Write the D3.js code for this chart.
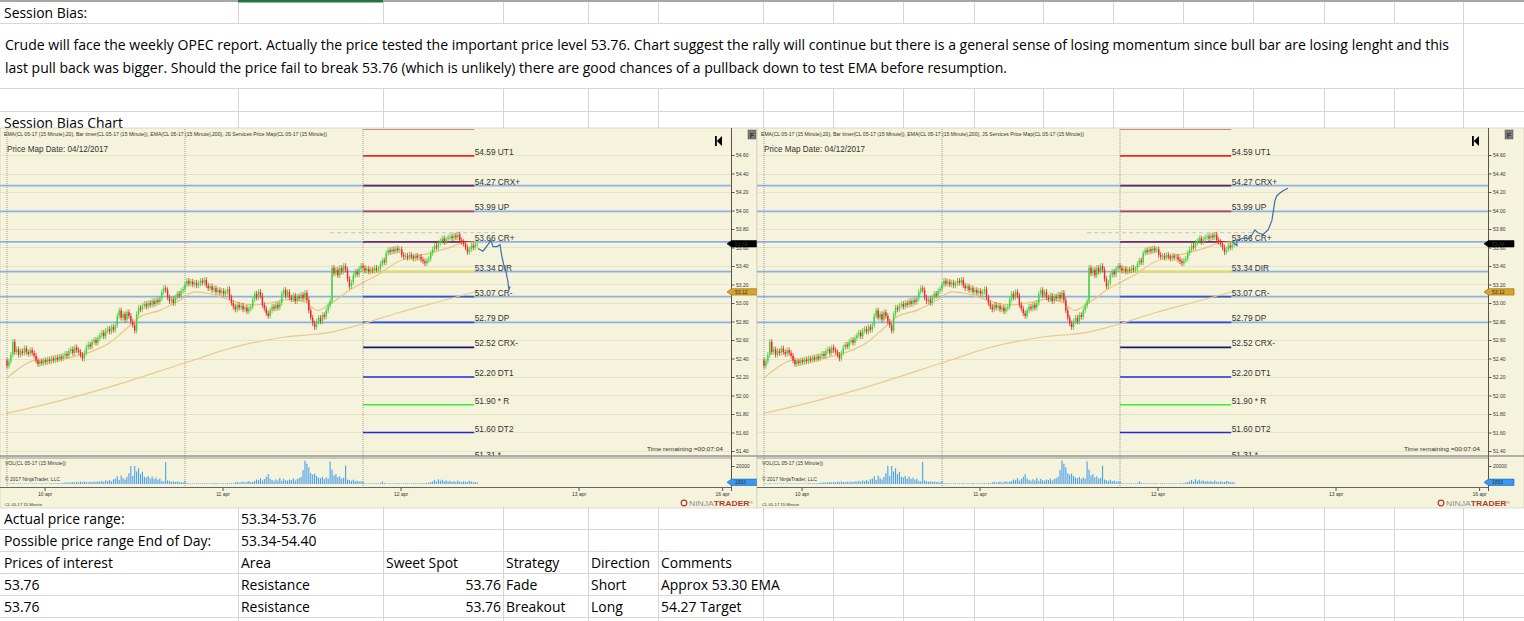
<!DOCTYPE html>
<html lang="en">
<head>
<meta charset="utf-8">
<script src="https://d3js.org/d3.v7.min.js"></script>
<style type="text/css">
  body { margin: 0; background: #fff; }
  svg { display: block; }
  .cell { font-family: "Open Sans", sans-serif; font-size: 14.5px; fill: #000; }
  .nt { font-family: "Liberation Sans", Arial, sans-serif; fill: #333; }
  .axis text { font-family: "Liberation Sans", Arial, sans-serif; font-size: 5px; fill: #333; }
  .axis line { stroke: #555; }
</style>
</head>
<body>
<script type="text/javascript">

  // ---- chart data (CL 05-17, 15 minute bars) ----
  var firstOpen = 52.38;
  var closes = [
    52.32, 52.37, 52.44, 52.58,
    52.47, 52.50, 52.44, 52.48, 52.46, 52.51, 52.47, 52.45, 52.49, 52.46, 52.43,
    52.38, 52.34, 52.37,
    52.35, 52.38, 52.36, 52.39, 52.37, 52.40, 52.38, 52.41, 52.39, 52.42, 52.40, 52.43,
    52.45, 52.43, 52.48, 52.50, 52.46, 52.52, 52.49, 52.47, 52.44, 52.40,
    52.46, 52.52, 52.55, 52.53, 52.58, 52.60, 52.57, 52.62,
    52.65, 52.68, 52.64, 52.70, 52.72, 52.69, 52.74, 52.71, 52.76,
    52.86, 52.92,
    52.84, 52.88, 52.82, 52.90, 52.86, 52.80, 52.76,
    52.70,
    52.88, 52.95, 52.93, 52.97, 52.99, 52.96, 53.00, 52.98, 53.02, 52.99, 53.03, 53.01, 53.05,
    53.12, 53.16, 53.14,
    53.06, 53.02, 53.04, 53.00,
    53.06, 53.10, 53.08, 53.13, 53.15,
    53.20, 53.24, 53.21, 53.23, 53.20, 53.22, 53.19, 53.21, 53.24, 53.22, 53.25,
    53.19, 53.16, 53.18, 53.14, 53.16,
    53.12, 53.14, 53.11, 53.13, 53.10, 53.12, 53.15,
    53.06, 53.00, 52.96, 52.93, 52.98, 52.95,
    52.97, 52.93, 52.95, 52.91, 52.94, 52.96,
    53.04, 53.10, 53.06, 53.12, 53.08,
    52.98, 52.94, 52.89, 52.86, 52.92,
    52.96, 52.94, 52.98, 52.95, 53.00,
    53.10, 53.14, 53.08, 53.12, 53.06,
    53.04, 53.08, 53.02, 53.07, 53.05,
    53.09, 53.05, 53.11, 53.03,
    52.92, 52.84, 52.78, 52.74, 52.80,
    52.84, 52.80, 52.87, 52.85,
    52.92, 52.97, 53.02,
    53.38,
    53.32, 53.36, 53.30, 53.38, 53.34, 53.40, 53.36,
    53.26, 53.18, 53.22,
    53.30, 53.34, 53.31, 53.37, 53.40,
    53.38, 53.35, 53.37, 53.34, 53.36, 53.35, 53.38, 53.36, 53.37,
    53.42, 53.46, 53.44,
    53.54, 53.57, 53.55, 53.58, 53.56, 53.59, 53.57, 53.58,
    53.52, 53.50, 53.51,
    53.49, 53.52, 53.50, 53.48, 53.51, 53.49, 53.50, 53.47,
    53.45, 53.43, 53.46, 53.48,
    53.54, 53.58, 53.62, 53.60, 53.65,
    53.67, 53.70, 53.66, 53.69, 53.71,
    53.72, 53.70, 53.73, 53.71,
    53.74, 53.68, 53.66, 53.64,
    53.60, 53.55, 53.58,
    53.62, 53.60, 53.63, 53.64
  ];

  // volume per bar, in thousands of contracts
  var volumes = [
    0.6,0.4,0.5,0.8,0.5,0.4,0.6,0.5,0.4,0.5,0.6,0.4,0.5,0.7,0.5,0.6,0.5,0.4,0.6,0.5,0.7,0.5,0.6,0.8,0.6,0.7,0.9,0.7,1.0,1.2,
    1.6,1.8,1.5,2.0,2.2,1.7,2.4,1.9,2.6,2.0,2.8,2.2,1.9,2.5,2.1,2.7,2.3,3.0,
    2.8,3.5,2.6,4.0,3.2,4.6,3.0,5.2,
    6.0,8.5,4.5,9.5,6.5,5.0,7.8,
    12.0,20.0,9.0,20.0,14.0,17.5,11.0,13.5,8.0,
    7.5,9.0,6.0,8.2,5.5,7.0,4.8,6.0,3.5,
    3.0, 24.5,
    4.0,3.2,2.6,3.0,2.4,2.8,2.2,2.0,1.8,
    3.5,
    1.0,0.8,0.6,0.7,0.5,0.6,0.8,0.5,0.7,0.6,0.9,0.5,0.6,0.7,0.5,1.2,0.6,0.5,0.8,0.6,0.7,0.9,0.6,1.0,0.8,
    1.8,2.5,1.5,2.2,2.8,1.6,2.4,3.2,2.0,2.6,
    3.5,5.0,4.2,6.5,3.8,5.5,8.0,11.0,6.0,
    4.5,3.6,5.2,4.0,6.8,3.5,5.8,4.2,3.8,5.0,4.4,6.2,3.9,5.5,6.5,
    8.0,15.5,26.0,22.5,18.5,12.0,10.5,11.5,9.0,7.0,
    6.5,8.0,5.5,7.2,6.0,
    25.0,
    16.0,9.5,11.0,7.5,8.5,6.0,7.0,
    20.5,
    5.0,4.2,3.5,4.8,3.2,3.8,2.8,3.0,
    3.2,
    0.8,0.6,0.5,0.7,0.6,0.8,0.5,0.6,0.9,
    2.8,
    1.2,0.7,0.6,0.8,0.5,0.7,0.6,0.9,0.6,0.5,0.7,0.8,0.6,0.7,0.5,0.9,0.6,0.7,0.8,0.6,1.0,0.7,1.2,1.5,
    2.2,3.0,4.5,2.8,5.2,3.6,4.8,3.2,4.0,2.9,3.5,2.6,3.1,2.4,3.8,
    2.6,2.0,3.0,2.4,2.2,3.4,2.8,2.1,2.0,1.9
  ];

  // EMA readings as [bar index, price]
  var ema20 = [[0,52.19],[6.7,52.30],[14.5,52.38],[22,52.38],[32.5,52.41],[45.5,52.49],[53,52.57],[61,52.71],
    [68.7,52.85],[79,52.92],[89.4,53.03],[97,53.12],[105,53.10],[112.7,53.05],[120.4,53.00],[128,52.98],
    [136,53.00],[146,53.04],[154,53.01],[160.7,52.92],[166,52.98],[172,53.06],[177,53.14],[184,53.22],
    [192.8,53.32],[201.5,53.44],[209.8,53.50],[218.6,53.54],[227.4,53.59],[235.7,53.65],[243.4,53.66]];
  var ema200 = [[0,51.81],[6.7,51.84],[48,52.06],[93,52.36],[117,52.52],[143,52.63],[169,52.69],
    [183,52.77],[203,52.90],[226,53.03],[243.4,53.13]];

  // hand drawn scenarios: pullback (left chart) and breakout (right chart)
  var projDown = [[243.4,53.59],[246,53.56],[248.6,53.63],[250.1,53.68],[251.2,53.61],[253.2,53.61],
    [254.8,53.63],[255.8,53.50],[256.8,53.41],[257.9,53.34],[258.9,53.23],[259.4,53.14],[260,53.18]];
  var projUp = [[241.9,53.67],[244.4,53.62],[244.4,53.68],[247.5,53.70],[251.2,53.70],[253.7,53.79],
    [255.3,53.76],[257.9,53.74],[260.5,53.79],[262.5,53.89],[264.1,54.11],[265.1,54.16],[266.7,54.19],
    [268.7,54.22],[270.8,54.24]];

  // JS Services price map for 04/12/2017
  var levelPrices = [54.88, 54.59, 54.27, 53.99, 53.66, 53.34, 53.07, 52.79, 52.52, 52.20, 51.90, 51.60, 51.31];
  var levelNames  = ["UT2", "UT1", "CRX+", "UP", "CR+", "DIR", "CR-", "DP", "CRX-", "DT1", "* R", "DT2", "*"];
  var drawnLevels = [54.27, 53.99, 53.66, 53.34, 53.07, 52.79];
  var testedLevel = 53.76;

  var dayStarts = [0, 92, 184];
  var dateTicks = [19.4, 111.4, 203.4, 295.4, 369.6];
  var dateLabels = ["10 apr", "11 apr", "12 apr", "13 apr", "16 apr"];
  var priceTicks = [51.40, 51.60, 51.80, 52.00, 52.20, 52.40, 52.60, 52.80, 53.00,
                    53.20, 53.40, 53.60, 53.80, 54.00, 54.20, 54.40, 54.60];
  var volumeTicks = [20];
  var lastPrice = 53.64, lastEma200 = 53.12, lastVolume = 1.893;

  // ---- spreadsheet text ----
  var biasLines = [
    "Crude will face the weekly OPEC report. Actually the price tested the important price level 53.76. Chart suggest the rally will continue but there is a general sense of losing momentum since bull bar are losing lenght and this",
    "last pull back was bigger. Should the price fail to break 53.76 (which is unlikely) there are good chances of a pullback down to test EMA before resumption."
  ];
  var tableRows = [
    ["Actual price range:", "53.34-53.76", "", "", "", ""],
    ["Possible price range End of Day:", "53.34-54.40", "", "", "", ""],
    ["Prices of interest", "Area", "Sweet Spot", "Strategy", "Direction", "Comments"],
    ["53.76", "Resistance", "53.76", "Fade", "Short", "Approx 53.30 EMA"],
    ["53.76", "Resistance", "53.76", "Breakout", "Long", "54.27 Target"]
  ];

  var width = 1524, height = 621;
  var SX = 0.96;   // squeeze the sans font towards the sheet's narrow face

  var svg = d3.select("body").append("svg")
    .attr("width", width)
    .attr("height", height);

  // ---- sheet grid ----
  var cols = [238, 383, 503, 588, 658, 763, 833, 903, 974, 1043, 1113, 1183, 1253, 1324, 1394, 1463];
  var grid = svg.append("g").attr("stroke", "#d6d6d6").attr("stroke-width", 1);
  [23.5, 88.5, 111.5, 529.5, 551.5, 573.5, 595.5, 617.5].forEach(function(yy) {
    grid.append("line").attr("x1", 0).attr("x2", width).attr("y1", yy).attr("y2", yy);
  });
  cols.forEach(function(cx) {
    grid.append("line").attr("x1", cx + 0.5).attr("x2", cx + 0.5).attr("y1", 0).attr("y2", 23);
    grid.append("line").attr("x1", cx + 0.5).attr("x2", cx + 0.5).attr("y1", 88).attr("y2", 128);
    grid.append("line").attr("x1", cx + 0.5).attr("x2", cx + 0.5).attr("y1", 508).attr("y2", height);
  });
  grid.append("line").attr("x1", 1463.5).attr("x2", 1463.5).attr("y1", 23).attr("y2", 88);
  svg.append("rect").attr("x", 0).attr("y", 0).attr("width", width).attr("height", 2).attr("fill", "#a6a6a6");
  svg.append("rect").attr("x", 238).attr("y", 0).attr("width", 145).attr("height", 2.5).attr("fill", "#217346");

  function cell(x, y, s, anchor) {
    svg.append("text").attr("class", "cell")
      .attr("transform", "translate(" + x + "," + y + ") scale(" + SX + ",1)")
      .attr("text-anchor", anchor || "start")
      .text(s);
  }

  cell(4, 18, "Session Bias:");
  svg.append("text").attr("class", "cell").attr("x", 5).attr("y", 50)
    .attr("textLength", 1444).attr("lengthAdjust", "spacingAndGlyphs").text(biasLines[0]);
  svg.append("text").attr("class", "cell").attr("x", 5).attr("y", 73)
    .attr("textLength", 1002).attr("lengthAdjust", "spacingAndGlyphs").text(biasLines[1]);
  cell(4, 127.5, "Session Bias Chart");

  // table under the charts
  var tableX = [4, 241, 501, 506, 591, 661];
  tableRows.forEach(function(row, r) {
    var yy = 524 + r * 22;
    row.forEach(function(txt, c) {
      if (!txt) return;
      // sweet spot prices are numbers, right aligned in their cell
      if (c === 2 && r > 2) cell(tableX[2], yy, txt, "end");
      else if (c === 2) cell(386, yy, txt);
      else cell(tableX[c], yy, txt);
    });
  });

  // ---- scales (shared by both charts) ----
  var x = d3.scaleLinear().domain([0, 92]).range([7, 185]);
  var y = d3.scaleLinear().domain([51.40, 54.60]).range([451, 155]);
  var vy = d3.scaleLinear().domain([0, 20]).range([484, 466]);

  var levelColor = {
    "UT2": "#c98a86", "UT1": "#ee2424", "CRX+": "#5e2c62", "UP": "#b8406a", "CR+": "#6c2f72",
    "DIR": "#e6e046", "CR-": "#3356c8", "DP": "#2f4fe0", "CRX-": "#15166e", "DT1": "#2626de",
    "* R": "#3cee3c", "DT2": "#2626de", "*": "#2626de"
  };

  function drawChart(id, ox, w, proj) {
    var g = svg.append("g").attr("transform", "translate(" + ox + ",0)");

    g.append("rect").attr("x", 0).attr("y", 128).attr("width", w).attr("height", 380)
      .attr("fill", "#f5f3dc").attr("stroke", "#c8c6b4").attr("stroke-width", 0.6);

    var clip = g.append("clipPath").attr("id", "clip" + id);
    clip.append("rect").attr("x", 0).attr("y", 129).attr("width", 731).attr("height", 327);
    var p = g.append("g").attr("clip-path", "url(#clip" + id + ")");

    // price grid
    p.selectAll(".gl").data(priceTicks).enter().append("line")
      .attr("x1", 0).attr("x2", 731)
      .attr("y1", function(d) { return Math.round(y(d)) + 0.5; })
      .attr("y2", function(d) { return Math.round(y(d)) + 0.5; })
      .attr("stroke", "#e6e3c9").attr("stroke-width", 1);

    // session separators
    g.selectAll(".day").data(dayStarts).enter().append("line")
      .attr("x1", function(d) { return x(d); }).attr("x2", function(d) { return x(d); })
      .attr("y1", 129).attr("y2", 487)
      .attr("stroke", "#8c8b80").attr("stroke-width", 0.8).attr("stroke-dasharray", "1,1");

    // hand drawn horizontal lines
    p.selectAll(".hl").data(drawnLevels).enter().append("line")
      .attr("x1", 0).attr("x2", 731)
      .attr("y1", function(d) { return y(d); }).attr("y2", function(d) { return y(d); })
      .attr("stroke", "#8db1e2").attr("stroke-width", 1.8);

    p.append("line")
      .attr("x1", x(167)).attr("x2", x(254))
      .attr("y1", y(testedLevel)).attr("y2", y(testedLevel))
      .attr("stroke", "#bcc6d4").attr("stroke-width", 1).attr("stroke-dasharray", "4,3");

    // price map segments
    p.selectAll(".lv").data(levelPrices).enter().append("line")
      .attr("x1", x(184)).attr("x2", x(241.5))
      .attr("y1", function(d) { return y(d); }).attr("y2", function(d) { return y(d); })
      .attr("stroke", function(d, i) { return levelColor[levelNames[i]]; })
      .attr("stroke-width", 1.7);

    // EMAs
    var ln = d3.line()
      .x(function(d) { return x(d[0]); })
      .y(function(d) { return y(d[1]); })
      .curve(d3.curveMonotoneX);
    p.append("path").attr("d", ln(ema200)).attr("fill", "none")
      .attr("stroke", "#ecca8c").attr("stroke-width", 1.2);
    p.append("path").attr("d", ln(ema20)).attr("fill", "none")
      .attr("stroke", "#ebc582").attr("stroke-width", 1.2);

    // bars
    var bars = closes.map(function(c, i) {
      var o = i > 0 ? closes[i - 1] : firstOpen;
      return { i: i, o: o, c: c, hi: Math.max(o, c), lo: Math.min(o, c) };
    });
    var bar = p.selectAll(".bar").data(bars).enter().append("g");
    bar.append("line")
      .attr("x1", function(d) { return x(d.i); }).attr("x2", function(d) { return x(d.i); })
      .attr("y1", function(d) { return y(d.hi + 0.03); })
      .attr("y2", function(d) { return y(d.lo - 0.03); })
      .attr("stroke", function(d) { return d.c >= d.o ? "#3fd43f" : "#f02626"; })
      .attr("stroke-width", 0.8);
    bar.append("rect")
      .attr("x", function(d) { return x(d.i) - 0.7; })
      .attr("width", 1.4)
      .attr("y", function(d) { return y(d.hi); })
      .attr("height", function(d) { return Math.max(1, y(d.lo) - y(d.hi)); })
      .attr("fill", function(d) { return d.c >= d.o ? "#3fd43f" : "#f02626"; });

    // map labels (the topmost one sits above the visible panel)
    p.selectAll(".lt").data(levelPrices.filter(function(d) { return y(d) > 140; })).enter().append("text")
      .attr("class", "nt")
      .attr("x", x(241.5) + 0.5)
      .attr("y", function(d) { return y(d) - 1; })
      .attr("font-size", 8.3)
      .text(function(d) { return d.toFixed(2) + " " + levelNames[levelPrices.indexOf(d)]; });

    // scenario line
    var pl = d3.line().x(function(d) { return x(d[0]); }).y(function(d) { return y(d[1]); });
    p.append("path").attr("d", pl(proj)).attr("fill", "none")
      .attr("stroke", "#3b6ea8").attr("stroke-width", 1.2);

    // headers
    g.append("text").attr("class", "nt").attr("x", 4).attr("y", 135.5).attr("font-size", 4.6)
      .attr("textLength", 323).attr("lengthAdjust", "spacingAndGlyphs")
      .text("EMA(CL 05-17 (15 Minute),20), Bar timer(CL 05-17 (15 Minute)), EMA(CL 05-17 (15 Minute),200), JS Services Price Map(CL 05-17 (15 Minute))");
    g.append("text").attr("class", "nt").attr("x", 7).attr("y", 152).attr("font-size", 8.2)
      .attr("fill", "#222").attr("textLength", 101).attr("lengthAdjust", "spacingAndGlyphs")
      .text("Price Map Date: 04/12/2017");
    g.append("text").attr("class", "nt").attr("x", 647).attr("y", 451).attr("font-size", 6.2)
      .attr("textLength", 76).attr("lengthAdjust", "spacingAndGlyphs")
      .text("Time remaining =00:07:04");

    // scroll-to-end icon and F box
    g.append("rect").attr("x", 715).attr("y", 136).attr("width", 1.8).attr("height", 10).attr("fill", "#000");
    g.append("path").attr("d", "M716.8,141 L722,136 L722,146 Z").attr("fill", "#000");
    g.append("rect").attr("x", 748).attr("y", 130).attr("width", 8).attr("height", 9)
      .attr("fill", "#7b7b7b").attr("stroke", "#555").attr("stroke-width", 0.5);
    g.append("text").attr("class", "nt").attr("x", 752).attr("y", 137.5).attr("font-size", 7)
      .attr("font-weight", "bold").attr("text-anchor", "middle").attr("fill", "#fff").text("F");

    // price axis
    var yAxis = d3.axisRight(y).tickValues(priceTicks).tickFormat(d3.format(".2f")).tickSize(3).tickPadding(1.5);
    g.append("g").attr("class", "axis").attr("transform", "translate(731.5,0)")
      .call(yAxis).call(function(a) { a.select(".domain").remove(); });
    g.append("line").attr("x1", 731.5).attr("x2", 731.5).attr("y1", 128).attr("y2", 491)
      .attr("stroke", "#555").attr("stroke-width", 1);

    // panel separator
    g.append("line").attr("x1", 0).attr("x2", w).attr("y1", 456).attr("y2", 456).attr("stroke", "#6a6a6a");
    g.append("line").attr("x1", 0).attr("x2", 731).attr("y1", 458).attr("y2", 458).attr("stroke", "#9a9a9a");

    // volume
    g.selectAll(".vb").data(volumes).enter().append("rect")
      .attr("x", function(d, i) { return x(i) - 0.55; })
      .attr("width", 1.1)
      .attr("y", function(d) { return vy(d); })
      .attr("height", function(d) { return vy(0) - vy(d); })
      .attr("fill", "#4aa0ea");
    var vAxis = d3.axisRight(vy).tickValues(volumeTicks).tickFormat(function(d) { return d * 1000; }).tickSize(3).tickPadding(1.5);
    g.append("g").attr("class", "axis").attr("transform", "translate(731.5,0)")
      .call(vAxis).call(function(a) { a.select(".domain").remove(); });
    g.append("text").attr("class", "nt").attr("x", 5).attr("y", 465).attr("font-size", 4.8)
      .attr("textLength", 61).attr("lengthAdjust", "spacingAndGlyphs").text("VOL(CL 05-17 (15 Minute))");
    g.append("text").attr("class", "nt").attr("x", 5).attr("y", 481).attr("font-size", 4.8)
      .attr("textLength", 55).attr("lengthAdjust", "spacingAndGlyphs").text("\u00a9 2017 NinjaTrader, LLC");

    // time axis
    g.append("line").attr("x1", 0).attr("x2", 731).attr("y1", 487.5).attr("y2", 487.5)
      .attr("stroke", "#666").attr("stroke-width", 1.2);
    var xAxis = d3.axisBottom(x).tickValues(dateTicks)
      .tickFormat(function(d, i) { return dateLabels[i]; }).tickSize(3).tickPadding(1.5);
    g.append("g").attr("class", "axis").attr("transform", "translate(0,488)")
      .call(xAxis).call(function(a) { a.select(".domain").remove(); });

    // value tags on the price / volume axis
    function tag(yv, txt, fill, stroke, color) {
      var h = 3.2;
      g.append("path")
        .attr("d", "M727," + yv + " L731.5," + (yv - h) + " L757," + (yv - h) + " L757," + (yv + h) + " L731.5," + (yv + h) + " Z")
        .attr("fill", fill).attr("stroke", stroke).attr("stroke-width", 0.6);
      g.append("text").attr("class", "nt").attr("x", 735).attr("y", yv + 1.8)
        .attr("font-size", 5).attr("fill", color).text(txt);
    }
    tag(y(lastPrice), lastPrice.toFixed(2), "#000", "#000", "#fff");
    tag(y(lastEma200), lastEma200.toFixed(2), "#d8a326", "#8a6812", "#222");
    tag(vy(lastVolume), Math.round(lastVolume * 1000), "#3797f5", "#1d5fb0", "#fff");

    // footer
    g.append("text").attr("class", "nt").attr("x", 5).attr("y", 505.5).attr("font-size", 4)
      .attr("textLength", 37).attr("lengthAdjust", "spacingAndGlyphs").text("CL 05-17 15 Minute");
    g.append("circle").attr("cx", 684).attr("cy", 503).attr("r", 2.8)
      .attr("fill", "none").attr("stroke", "#b23a30").attr("stroke-width", 1.2);
    var logo = g.append("text").attr("class", "nt").attr("x", 689).attr("y", 506)
      .attr("font-size", 7.4).attr("textLength", 64).attr("lengthAdjust", "spacingAndGlyphs");
    logo.append("tspan").attr("fill", "#8e8e8e").text("NINJA");
    logo.append("tspan").attr("fill", "#b23a30").attr("font-weight", "bold").text("TRADER");
    logo.append("tspan").attr("fill", "#b23a30").attr("font-size", 4).attr("dy", -2).text("\u00ae");
  }

  drawChart("L", 0, 757, projDown);
  drawChart("R", 757, 767, projUp);

</script>
</body>
</html>
